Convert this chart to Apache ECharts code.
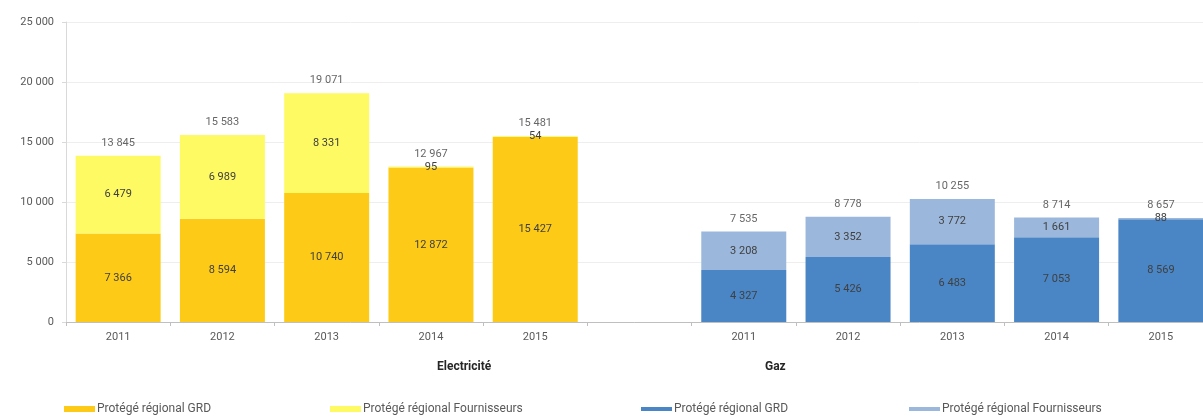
<!DOCTYPE html>
<html>
<head>
<meta charset="utf-8">
<script src="https://cdn.jsdelivr.net/npm/echarts@6/dist/echarts.min.js"></script>
<style>
html,body{margin:0;padding:0;background:#fff;overflow:hidden;}
#chart{width:1203px;height:419px;}
</style>
</head>
<body>
<div id="chart"></div>
<script>
// Categories: Electricité 2011-2015, gap, Gaz 2011-2015
var categories = ['2011','2012','2013','2014','2015','','2011','2012','2013','2014','2015'];
var groupLabels = ['Electricité','Gaz'];
var seriesNames = ['Protégé régional GRD','Protégé régional Fournisseurs'];

var elecGRD = [7366, 8594, 10740, 12872, 15427, null, null, null, null, null, null];
var elecFourn = [6479, 6989, 8331, 95, 54, null, null, null, null, null, null];
var elecTotal = [13845, 15583, 19071, 12967, 15481, null, null, null, null, null, null];

var gazGRD = [null, null, null, null, null, null, 4327, 5426, 6483, 7053, 8569];
var gazFourn = [null, null, null, null, null, null, 3208, 3352, 3772, 1661, 88];
var gazTotal = [null, null, null, null, null, null, 7535, 8778, 10255, 8714, 8657];

var yTicks = {min: 0, max: 25000, interval: 5000};

function fmt(v){
  if (v === null || v === undefined) return '';
  return String(v).replace(/\B(?=(\d{3})+(?!\d))/g, ' ');
}

var FONT = 'Roboto, "Liberation Sans", sans-serif';
var inLabel = {show: true, position: 'inside', color: '#404040', fontSize: 11, fontFamily: FONT,
  formatter: function(p){ return fmt(p.value); }};

function barSeries(name, data, color, stack){
  return {
    name: name, type: 'bar', stack: stack, data: data, barWidth: 85,
    itemStyle: {color: color}, label: inLabel, silent: true
  };
}
function totalSeries(name, data){
  return {
    name: name, type: 'scatter', data: data, symbolSize: 0, silent: true,
    label: {show: true, position: 'top', distance: 7, color: '#404040', fontSize: 11, fontFamily: FONT,
      formatter: function(p){ return fmt(p.value); }}
  };
}

var names = ['E|' + seriesNames[0], 'E|' + seriesNames[1], 'G|' + seriesNames[0], 'G|' + seriesNames[1]];
function legendItem(name, left, h){
  return {
    data: [name], left: left, top: 403, padding: 0, itemWidth: 31, itemHeight: h, itemGap: 0,
    icon: 'rect', selectedMode: false,
    textStyle: {color: '#595959', fontSize: 12, fontFamily: FONT, padding: [0,0,0,-3]},
    formatter: function(n){ return n.split('|')[1]; }
  };
}

var option = {
  animation: false,
  backgroundColor: '#ffffff',
  grid: {left: 66, width: 1147, top: 22, bottom: 97, containLabel: false, outerBoundsMode: 'none'},
  legend: [
    legendItem(names[0], 64, 6),
    legendItem(names[1], 330, 6),
    legendItem(names[2], 641, 4),
    legendItem(names[3], 909, 4)
  ],
  xAxis: {
    type: 'category', data: categories,
    axisLine: {lineStyle: {color: '#bfbfbf'}},
    axisTick: {show: true, lineStyle: {color: '#bfbfbf'}, length: 4},
    axisLabel: {color: '#595959', fontSize: 11, fontFamily: FONT, margin: 10}
  },
  yAxis: {
    type: 'value', min: yTicks.min, max: yTicks.max, interval: yTicks.interval,
    axisLine: {show: true, lineStyle: {color: '#d9d9d9'}},
    axisTick: {show: true, length: 4, lineStyle: {color: '#d9d9d9'}},
    splitLine: {lineStyle: {color: '#eeeeee'}},
    axisLabel: {color: '#595959', fontSize: 11, fontFamily: FONT, margin: 12,
      formatter: function(v){ return fmt(v); }}
  },
  graphic: [
    {type: 'text', left: 437, top: 361, style: {text: groupLabels[0], font: 'bold 12px ' + FONT, fill: '#262626'}},
    {type: 'text', left: 765, top: 361, style: {text: groupLabels[1], font: 'bold 12px ' + FONT, fill: '#262626'}}
  ],
  series: [
    barSeries(names[0], elecGRD, '#FDCB17', 'a'),
    barSeries(names[1], elecFourn, '#FEFA63', 'a'),
    barSeries(names[2], gazGRD, '#4A86C5', 'a'),
    barSeries(names[3], gazFourn, '#9BB8DC', 'a'),
    totalSeries('totE', elecTotal),
    totalSeries('totG', gazTotal)
  ]
};

var chart = echarts.init(document.getElementById('chart'), null, {renderer: 'canvas'});
chart.setOption(option);
</script>
</body>
</html>
